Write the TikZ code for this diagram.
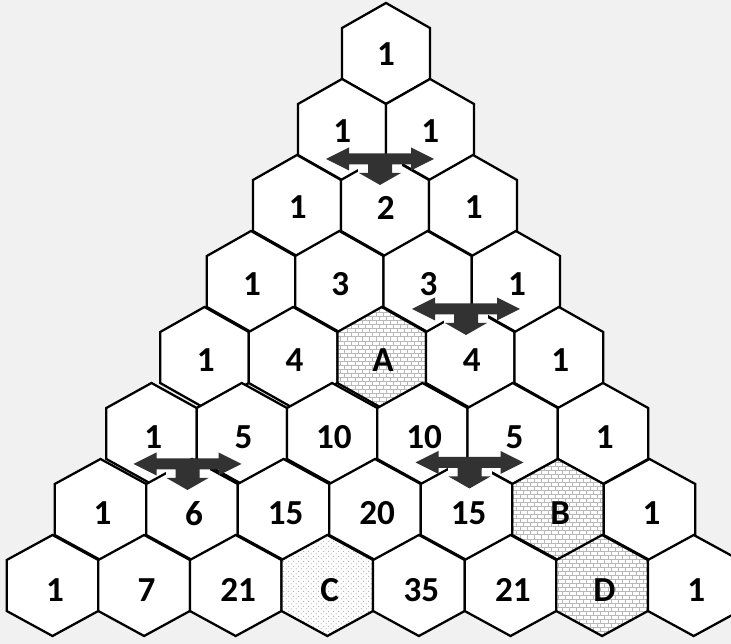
\documentclass[tikz,border=0pt]{standalone}
\usepackage{fontspec}
\setmainfont{Carlito}
\usetikzlibrary{patterns}
\definecolor{bgcol}{RGB}{241,241,241}
\definecolor{arrowcol}{RGB}{50,50,50}
\definecolor{mortar}{RGB}{185,185,185}
\definecolor{dotcol}{RGB}{165,165,165}

\pgfdeclarepatternformonly{smallbricks}{\pgfpoint{-0.3pt}{-0.3pt}}{\pgfpoint{4.3pt}{4.9pt}}{\pgfpoint{4pt}{4.6pt}}{
  \pgfsetlinewidth{0.45pt}
  \pgfpathmoveto{\pgfpoint{0pt}{0pt}}\pgfpathlineto{\pgfpoint{4pt}{0pt}}
  \pgfpathmoveto{\pgfpoint{0pt}{2.3pt}}\pgfpathlineto{\pgfpoint{4pt}{2.3pt}}
  \pgfpathmoveto{\pgfpoint{0pt}{0pt}}\pgfpathlineto{\pgfpoint{0pt}{2.3pt}}
  \pgfpathmoveto{\pgfpoint{2pt}{2.3pt}}\pgfpathlineto{\pgfpoint{2pt}{4.6pt}}
  \pgfusepath{stroke}
}
\pgfdeclarepatternformonly{smalldots}{\pgfpoint{0pt}{0pt}}{\pgfpoint{2.8pt}{2.8pt}}{\pgfpoint{2.8pt}{2.8pt}}{
  \pgfpathcircle{\pgfpoint{0.7pt}{0.7pt}}{0.32pt}
  \pgfpathcircle{\pgfpoint{2.1pt}{2.1pt}}{0.32pt}
  \pgfusepath{fill}
}

\tikzset{
  hexcell/.style={draw=black, line width=1.3pt, line join=miter},
  plain/.style={fill=white},
  bricky/.style={preaction={fill=white}, pattern=smallbricks, pattern color=mortar},
  dotty/.style={preaction={fill=white}, pattern=smalldots, pattern color=dotcol},
  lbl/.style={font=\fontsize{20}{22}\selectfont\bfseries, inner sep=0pt},
  tarrow/.pic={
    \fill[white] (-22,5.5) rectangle (-12,14);
    \fill[white] (12,5.5) rectangle (22,14);
    \fill[arrowcol] (-54,0) -- (-31,-11.5) -- (-31,-5.5) -- (31,-5.5) -- (31,-11.5)
      -- (54,0) -- (31,11.5) -- (31,5.5) -- (12,5.5) -- (12,14) -- (21,14)
      -- (0,26) -- (-21,14) -- (-12,14) -- (-12,5.5) -- (-31,5.5) -- (-31,11.5) -- cycle;
  }
}

\begin{document}
\begin{tikzpicture}[x=0.02cm,y=-0.02cm]
\fill[bgcol] (0,0) rectangle (731,644);
\useasboundingbox (0,0) rectangle (731,644);
\clip (0,0) rectangle (731,644);

\foreach \r/\xo/\s/\labs in {
  1/386/88/{1/plain},
  2/342/88/{1/plain,1/plain},
  3/297/88/{1/plain,2/plain,1/plain},
  4/251/88.3/{1/plain,3/plain,3/plain,1/plain},
  5/204.5/88.6/{1/plain,4/plain,A/bricky,4/plain,1/plain},
  6/151.5/90.3/{1/plain,5/plain,10/plain,10/plain,5/plain,1/plain},
  7/100.5/91.5/{1/plain,6/plain,15/plain,20/plain,15/plain,B/bricky,1/plain},
  8/52.5/91.6/{1/plain,7/plain,21/plain,C/dotty,35/plain,21/plain,D/bricky,1/plain}}
{
  \foreach \l/\st [count=\k from 0] in \labs {
    \pgfmathsetmacro\cx{\xo+\k*\s}
    \pgfmathsetmacro\cy{53.5+76*(\r-1)}
    \pgfmathsetmacro\hw{\s/2}
    \pgfmathsetmacro\lx{\cx+0.35*(\r-1)}
    \pgfmathsetmacro\ly{\cy+1+0.5*(\r-1)}
    \path[hexcell,\st] ({\cx},{\cy-50.5}) -- ({\cx+\hw},{\cy-25.5}) -- ({\cx+\hw},{\cy+25.5})
      -- ({\cx},{\cy+50.5}) -- ({\cx-\hw},{\cy+25.5}) -- ({\cx-\hw},{\cy-25.5}) -- cycle;
    \node[lbl] (n\r-\k) at ({\lx},{\ly}) {\l};
  }
}

\coordinate (ar1) at (380,159);
\coordinate (ar2) at (466,309);
\coordinate (ar3) at (469.5,462.5);
\coordinate (ar4) at (187.5,464);
\pic at (ar1) {tarrow};
\pic at (ar2) {tarrow};
\pic at (ar3) {tarrow};
\pic at (ar4) {tarrow};
\end{tikzpicture}
\end{document}
